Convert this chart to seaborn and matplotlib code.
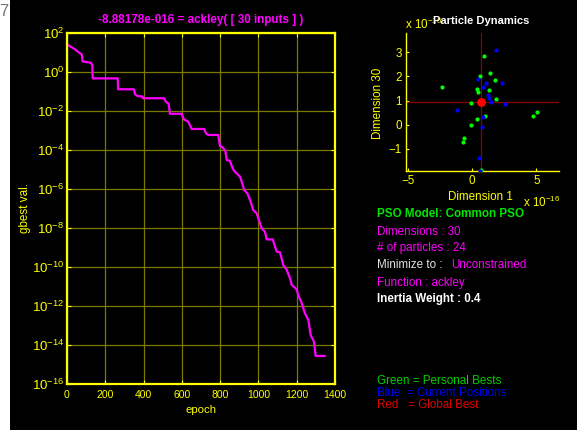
import math
import matplotlib
matplotlib.use('Agg')
import matplotlib.pyplot as plt
import seaborn as sns
import pandas as pd
from matplotlib.ticker import FixedLocator, NullLocator, FuncFormatter
from matplotlib.patches import Rectangle

# ---------------- data ----------------
epoch = [0, 42, 68, 78, 81, 103, 124, 132, 134, 265, 267, 350, 355, 368, 395, 397,
         507, 517, 531, 538, 599, 611, 634, 651, 716, 726, 738, 790, 799, 811, 827,
         834, 851, 865, 876, 904, 914, 926, 942, 956, 973, 991, 1017, 1034, 1043,
         1075, 1095, 1113, 1130, 1148, 1165, 1174, 1200, 1208, 1226, 1243, 1261,
         1273, 1290, 1299, 1348]
gbest = [26, 14.5, 9.1, 7.8, 3.5, 3.2, 3.0, 2.3, 0.47, 0.47, 0.13, 0.13, 7.4e-2,
         5.9e-2, 5.5e-2, 4.5e-2, 4.5e-2, 3.0e-2, 2.3e-2, 7.2e-3, 7.2e-3, 3.7e-3,
         2.8e-3, 1.2e-3, 1.2e-3, 7.1e-4, 5.9e-4, 5.9e-4, 1.6e-4, 1.4e-4, 9.3e-5,
         3.1e-5, 2.8e-5, 1.15e-5, 7.8e-6, 4.3e-6, 2.1e-6, 8.9e-7, 6.0e-7, 2.75e-7,
         8.3e-8, 5.6e-8, 9.5e-9, 6.5e-9, 2.6e-9, 2.6e-9, 6.2e-10, 5.6e-10, 1.26e-10,
         7.1e-11, 2.6e-11, 1.2e-11, 7.1e-12, 3.6e-12, 1.4e-12, 4.2e-13, 1.9e-13,
         3.2e-14, 1.5e-14, 2.75e-15, 2.75e-15]

# particle positions (units of 1e-16)
pbest_x = [-2.35, 0.96, 1.37, 0.65, 1.78, 0.36, 0.44, 1.29, 1.86, -0.10, 1.03,
           0.36, -0.10, -0.65, -0.67, 5.04, 4.78, 0.72]
pbest_y = [1.56, 2.83, 2.14, 2.02, 1.84, 1.46, 1.34, 1.42, 1.05, 0.90, 0.37,
           0.23, -0.03, -0.54, -0.71, 0.52, 0.34, -1.87]
cur_x = [1.86, 0.44, 1.09, 2.35, 0.88, 1.21, 1.29, 1.50, 2.53, -1.16, 0.88, 0.80,
         0.52, 0.62]
cur_y = [3.10, 1.88, 1.73, 1.73, 1.58, 1.24, 1.09, 0.94, 0.86, 0.61, 0.30, -0.10,
         -1.37, -1.94]
gb_x = [0.70]
gb_y = [0.92]

ytick_exp = [2, 0, -2, -4, -6, -8, -10, -12, -14, -16]
xticks_main = [0, 200, 400, 600, 800, 1000, 1200, 1400]

# ---------------- style ----------------
sns.set_theme(style='dark')
plt.rcParams['font.family'] = ['Liberation Sans', 'DejaVu Sans']
plt.rcParams['mathtext.fontset'] = 'custom'
plt.rcParams['mathtext.rm'] = 'Liberation Sans'
plt.rcParams['mathtext.it'] = 'Liberation Sans'
plt.rcParams['mathtext.bf'] = 'Liberation Sans:bold'

W, H = 577, 430
YEL = '#ffff00'
MAG = '#ff00ff'
fig = plt.figure(figsize=(W / 100, H / 100), dpi=100, facecolor='black')

# white strip at left edge
fig.patches.append(Rectangle((0, 0), 10 / W, 1, transform=fig.transFigure,
                             facecolor='white', edgecolor='none', zorder=-5))
fig.text(-1 / W, 1 - 11 / H, '7', color='#777777', fontsize=12, ha='left', va='center')

def fx(px):
    return px / W

def fy(py):
    return 1 - py / H

# ---------------- main axes ----------------
ax = fig.add_axes([fx(67), fy(384), (335 - 67) / W, (384 - 33) / H])
ax.set_facecolor('black')
df = pd.DataFrame({'epoch': epoch, 'gbest': gbest})
sns.lineplot(data=df, x='epoch', y='gbest', ax=ax, color=MAG, linewidth=1.6,
             estimator=None, sort=False)
ax.set_yscale('log')
ax.set_xlim(0, 1400)
ax.set_ylim(1e-16, 1e2)
ax.xaxis.set_major_locator(FixedLocator(xticks_main))
ax.yaxis.set_major_locator(FixedLocator([10.0 ** e for e in ytick_exp]))
ax.yaxis.set_minor_locator(NullLocator())
ax.yaxis.set_major_formatter(FuncFormatter(
    lambda v, p: r'$\mathregular{10^{%d}}$' % round(math.log10(v))))
ax.grid(True, color='#7a7a00', linewidth=0.9, alpha=1)
for s in ax.spines.values():
    s.set_color(YEL)
    s.set_linewidth(1.6)
    s.set_visible(True)
ax.tick_params(axis='both', which='major', direction='in', length=3, width=0.8,
               color=YEL, labelcolor=YEL, top=True, right=True,
               bottom=True, left=True)
ax.tick_params(axis='x', labelsize=7.5, pad=4)
ax.tick_params(axis='y', labelsize=9.5, pad=2)
ax.set_xlabel('')
ax.set_ylabel('')
fig.text(fx(201), fy(410), 'epoch', color=YEL, fontsize=8.2, ha='center', va='center')
fig.text(fx(25), fy(208), 'gbest val.', color=YEL, fontsize=8.4, ha='center',
         va='center', rotation=90)
fig.text(fx(201), fy(20.5), '-8.88178e-016 = ackley( [ 30 inputs ] )', color=MAG,
         fontsize=8.4, fontweight='bold', ha='center', va='center')

# ---------------- particle axes ----------------
ax2 = fig.add_axes([fx(405.67), fy(170.67), (559 - 405.67) / W, (170.67 - 33.3) / H])
ax2.set_facecolor('black')
ax2.set_xlim(-5.16, 6.77)
ax2.set_ylim(-1.91, 3.79)
ax2.axvline(gb_x[0], color='#8c0000', linewidth=0.9, zorder=1)
ax2.axhline(gb_y[0], color='#8c0000', linewidth=0.9, zorder=1)
sns.scatterplot(x=pbest_x, y=pbest_y, ax=ax2, color='#00ff00', s=9, linewidth=0,
                zorder=3)
sns.scatterplot(x=cur_x, y=cur_y, ax=ax2, color='#0000ff', s=9, linewidth=0,
                zorder=3)
sns.scatterplot(x=gb_x, y=gb_y, ax=ax2, color='#ff0000', s=40, linewidth=0,
                zorder=4)
ax2.xaxis.set_major_locator(FixedLocator([-5, 0, 5]))
ax2.yaxis.set_major_locator(FixedLocator([-1, 0, 1, 2, 3]))
ax2.grid(False)
ax2.spines['top'].set_visible(False)
ax2.spines['right'].set_visible(False)
for k in ['left', 'bottom']:
    ax2.spines[k].set_visible(True)
    ax2.spines[k].set_color(YEL)
    ax2.spines[k].set_linewidth(1.0)
ax2.tick_params(axis='both', direction='in', length=2, width=0.8, color=YEL,
                labelcolor=YEL, labelsize=8.4, pad=3, bottom=True, left=True)
fig.text(fx(480), fy(197), 'Dimension 1', color=YEL, fontsize=8.4, ha='center',
         va='center')
fig.text(fx(378), fy(103), 'Dimension 30', color=YEL, fontsize=8.4, ha='center',
         va='center', rotation=90)
fig.text(fx(523), fy(202), r'x $\mathregular{10^{-16}}$', color=YEL, fontsize=8.4,
         ha='left', va='center')
fig.text(fx(405), fy(24), r'x $\mathregular{10^{-16}}$', color=YEL, fontsize=8.4,
         ha='left', va='center')
fig.text(fx(481.5), fy(21), 'Particle Dynamics', color='white', fontsize=8,
         fontweight='bold', ha='center', va='center')

# ---------------- info text ----------------
x0 = fx(376.7)
fig.text(x0, fy(214.3), 'PSO Model: Common PSO', color='#00e600', fontsize=8.4,
         fontweight='bold', ha='left', va='center')
fig.text(x0, fy(231.7), 'Dimensions : 30', color=MAG, fontsize=8.4, ha='left',
         va='center')
fig.text(x0, fy(248.3), '# of particles : 24', color=MAG, fontsize=8.4, ha='left',
         va='center')
fig.text(x0, fy(265), 'Minimize to : ', color='#e0e0e0', fontsize=8.4, ha='left',
         va='center')
fig.text(fx(450.7), fy(265), 'Unconstrained', color=MAG, fontsize=8.4, ha='left',
         va='center')
fig.text(x0, fy(282.7), 'Function : ackley', color=MAG, fontsize=8.4, ha='left',
         va='center')
fig.text(x0, fy(299.3), 'Inertia Weight : 0.4', color='white', fontsize=8.4,
         fontweight='bold', ha='left', va='center')

fig.text(x0, fy(381), 'Green = Personal Bests', color='#00d000', fontsize=8.4,
         ha='left', va='center')
fig.text(x0, fy(393), 'Blue  = Current Positions', color='#0000ee', fontsize=8.4,
         ha='left', va='center')
fig.text(x0, fy(405.3), 'Red   = Global Best', color='#e00000', fontsize=8.4,
         ha='left', va='center')

fig.savefig('out.png', dpi=100, facecolor='black')
